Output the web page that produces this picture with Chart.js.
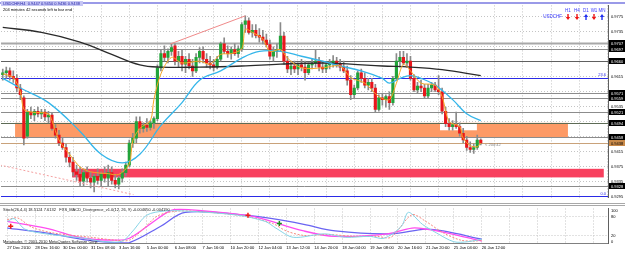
<!DOCTYPE html>
<html>
<head>
<meta charset="utf-8">
<script src="https://cdn.jsdelivr.net/npm/chart.js@4.4.1/dist/chart.umd.min.js"></script>
<style>
  html, body { margin: 0; padding: 0; background: #fff; overflow: hidden; }
  #wrap { position: relative; width: 625px; height: 253px; }
  canvas { position: absolute; left: 0; }
  #main { top: 0; }
  #sub { top: 203px; }
</style>
</head>
<body>
<div id="wrap">
  <canvas id="main" width="625" height="203"></canvas>
  <canvas id="sub" width="625" height="50"></canvas>
</div>
<script>
'use strict';

// ─── Data (USDCHF H4) ────────────────────────────────────────
const timeLabels = ['27 Dec 2010', '28 Dec 16:00', '30 Dec 00:00', '31 Dec 08:00', '3 Jan 16:00',
  '5 Jan 00:00', '6 Jan 08:00', '7 Jan 16:00', '10 Jan 20:00', '12 Jan 04:00', '13 Jan 12:00',
  '14 Jan 20:00', '18 Jan 04:00', '19 Jan 08:00', '20 Jan 16:00', '21 Jan 20:00', '25 Jan 04:00',
  '26 Jan 12:00'];
const timeTicks = [0, 8, 16, 24, 32, 40, 48, 56, 64, 72, 80, 88, 96, 104, 112, 120, 128, 136,
  144, 152, 160, 168];

const opens = [
  0.9621, 0.9626, 0.9631, 0.9616, 0.9611, 0.9585, 0.9559, 0.9456, 0.9521, 0.9513,
  0.9523, 0.9516, 0.9521, 0.9508, 0.9513, 0.9477, 0.9459, 0.9438, 0.9426, 0.9400,
  0.9387, 0.9361, 0.9354, 0.9336, 0.9359, 0.9344, 0.9333, 0.9349, 0.9338, 0.9354,
  0.9344, 0.9359, 0.9338, 0.9328, 0.9344, 0.9359, 0.9379, 0.9438, 0.9451, 0.9495,
  0.9477, 0.9485, 0.9480, 0.9492, 0.9503, 0.9639, 0.9677, 0.9667, 0.9683, 0.9698,
  0.9657, 0.9670, 0.9649, 0.9662, 0.9644, 0.9631, 0.9667, 0.9683, 0.9662, 0.9652,
  0.9647, 0.9641, 0.9662, 0.9703, 0.9683, 0.9677, 0.9688, 0.9677, 0.9690, 0.9755,
  0.9765, 0.9734, 0.9739, 0.9726, 0.9721, 0.9713, 0.9701, 0.9670, 0.9683, 0.9688,
  0.9724, 0.9657, 0.9636, 0.9644, 0.9636, 0.9647, 0.9641, 0.9626, 0.9647, 0.9652,
  0.9657, 0.9641, 0.9636, 0.9647, 0.9652, 0.9657, 0.9649, 0.9641, 0.9631, 0.9606,
  0.9567, 0.9585, 0.9626, 0.9611, 0.9593, 0.9600, 0.9585, 0.9528, 0.9559, 0.9554,
  0.9562, 0.9546, 0.9611, 0.9657, 0.9667, 0.9652, 0.9657, 0.9611, 0.9580, 0.9590,
  0.9585, 0.9564, 0.9585, 0.9593, 0.9580, 0.9575, 0.9523, 0.9490, 0.9482, 0.9487,
  0.9482, 0.9464, 0.9446, 0.9426, 0.9421, 0.9426, 0.9446];
const highs = [
  0.9636, 0.9641, 0.9639, 0.9631, 0.9621, 0.9595, 0.9564, 0.9528, 0.9534, 0.9528,
  0.9534, 0.9528, 0.9528, 0.9523, 0.9518, 0.9487, 0.9472, 0.9451, 0.9436, 0.9413,
  0.9400, 0.9379, 0.9374, 0.9369, 0.9374, 0.9361, 0.9354, 0.9369, 0.9361, 0.9374,
  0.9379, 0.9374, 0.9354, 0.9349, 0.9369, 0.9387, 0.9446, 0.9464, 0.9508, 0.9508,
  0.9492, 0.9503, 0.9498, 0.9508, 0.9647, 0.9688, 0.9698, 0.9690, 0.9703, 0.9703,
  0.9683, 0.9688, 0.9670, 0.9677, 0.9662, 0.9677, 0.9693, 0.9695, 0.9677, 0.9670,
  0.9662, 0.9670, 0.9708, 0.9719, 0.9698, 0.9695, 0.9703, 0.9698, 0.9760, 0.9778,
  0.9773, 0.9755, 0.9755, 0.9744, 0.9739, 0.9729, 0.9713, 0.9695, 0.9703, 0.9760,
  0.9734, 0.9670, 0.9657, 0.9657, 0.9652, 0.9662, 0.9657, 0.9652, 0.9662, 0.9688,
  0.9667, 0.9657, 0.9652, 0.9662, 0.9672, 0.9667, 0.9662, 0.9657, 0.9644, 0.9618,
  0.9593, 0.9631, 0.9636, 0.9626, 0.9611, 0.9611, 0.9595, 0.9567, 0.9570, 0.9567,
  0.9575, 0.9616, 0.9677, 0.9683, 0.9683, 0.9677, 0.9670, 0.9621, 0.9600, 0.9606,
  0.9595, 0.9595, 0.9600, 0.9600, 0.9618, 0.9585, 0.9534, 0.9503, 0.9498, 0.9521,
  0.9492, 0.9477, 0.9456, 0.9441, 0.9436, 0.9459, 0.9449];
const lows = [
  0.9606, 0.9611, 0.9606, 0.9600, 0.9575, 0.9554, 0.9433, 0.9451, 0.9503, 0.9498,
  0.9508, 0.9503, 0.9498, 0.9492, 0.9472, 0.9451, 0.9431, 0.9421, 0.9387, 0.9374,
  0.9349, 0.9338, 0.9323, 0.9323, 0.9333, 0.9318, 0.9307, 0.9328, 0.9323, 0.9333,
  0.9323, 0.9328, 0.9318, 0.9315, 0.9333, 0.9349, 0.9374, 0.9426, 0.9438, 0.9464,
  0.9467, 0.9469, 0.9472, 0.9477, 0.9498, 0.9631, 0.9657, 0.9652, 0.9672, 0.9647,
  0.9641, 0.9631, 0.9626, 0.9636, 0.9616, 0.9626, 0.9652, 0.9652, 0.9641, 0.9636,
  0.9631, 0.9636, 0.9657, 0.9677, 0.9667, 0.9662, 0.9672, 0.9667, 0.9683, 0.9734,
  0.9729, 0.9721, 0.9719, 0.9708, 0.9703, 0.9695, 0.9662, 0.9657, 0.9667, 0.9683,
  0.9649, 0.9626, 0.9621, 0.9626, 0.9621, 0.9631, 0.9606, 0.9621, 0.9636, 0.9641,
  0.9631, 0.9626, 0.9626, 0.9636, 0.9641, 0.9641, 0.9631, 0.9626, 0.9593, 0.9554,
  0.9559, 0.9580, 0.9600, 0.9585, 0.9580, 0.9575, 0.9521, 0.9523, 0.9539, 0.9534,
  0.9528, 0.9539, 0.9606, 0.9641, 0.9647, 0.9641, 0.9606, 0.9575, 0.9570, 0.9575,
  0.9559, 0.9559, 0.9575, 0.9575, 0.9567, 0.9516, 0.9482, 0.9472, 0.9472, 0.9477,
  0.9456, 0.9438, 0.9418, 0.9413, 0.9410, 0.9421, 0.9433];
const closes = [
  0.9626, 0.9631, 0.9616, 0.9611, 0.9585, 0.9567, 0.9451, 0.9521, 0.9513, 0.9523,
  0.9516, 0.9521, 0.9508, 0.9513, 0.9477, 0.9459, 0.9438, 0.9426, 0.9400, 0.9387,
  0.9361, 0.9354, 0.9336, 0.9359, 0.9344, 0.9333, 0.9349, 0.9338, 0.9354, 0.9344,
  0.9359, 0.9338, 0.9328, 0.9344, 0.9359, 0.9379, 0.9438, 0.9451, 0.9495, 0.9477,
  0.9485, 0.9480, 0.9492, 0.9503, 0.9639, 0.9677, 0.9667, 0.9683, 0.9693, 0.9657,
  0.9670, 0.9649, 0.9662, 0.9644, 0.9631, 0.9667, 0.9683, 0.9662, 0.9652, 0.9647,
  0.9641, 0.9662, 0.9703, 0.9683, 0.9677, 0.9688, 0.9677, 0.9690, 0.9755, 0.9765,
  0.9734, 0.9739, 0.9726, 0.9721, 0.9713, 0.9701, 0.9670, 0.9683, 0.9688, 0.9724,
  0.9657, 0.9636, 0.9644, 0.9636, 0.9647, 0.9641, 0.9626, 0.9647, 0.9652, 0.9657,
  0.9641, 0.9636, 0.9647, 0.9652, 0.9657, 0.9649, 0.9641, 0.9631, 0.9606, 0.9567,
  0.9585, 0.9626, 0.9611, 0.9593, 0.9600, 0.9585, 0.9528, 0.9559, 0.9554, 0.9562,
  0.9546, 0.9611, 0.9657, 0.9667, 0.9652, 0.9657, 0.9611, 0.9580, 0.9590, 0.9585,
  0.9564, 0.9585, 0.9593, 0.9580, 0.9575, 0.9523, 0.9490, 0.9482, 0.9487, 0.9482,
  0.9464, 0.9446, 0.9426, 0.9421, 0.9426, 0.9446, 0.9438];

// moving averages, sampled along the drawn curves (bar index, price)
const slowMaX = [0, 11, 22, 31, 39, 45, 56, 68, 79, 91, 99, 108, 116, 125, 136];
const slowMa  = [0.9747, 0.9734, 0.9708, 0.9675, 0.9647, 0.9641, 0.9641, 0.9644, 0.9649,
  0.9652, 0.9649, 0.9644, 0.9641, 0.9634, 0.9618];
const midMaX = [0, 5, 13, 22, 28, 34, 39, 45, 51, 56, 62, 68, 73, 79, 85, 91, 96, 102, 108,
  110, 113, 116, 119, 123, 128, 132, 136];
const midMa  = [0.9611, 0.9585, 0.9546, 0.9469, 0.9408, 0.9385, 0.9408, 0.9485, 0.9546,
  0.9606, 0.9631, 0.9665, 0.9683, 0.9683, 0.9670, 0.9657, 0.9644, 0.9631, 0.9611, 0.9598,
  0.9611, 0.9618, 0.9611, 0.9593, 0.9554, 0.9516, 0.9498];
const fastMaX = [0, 3, 5, 6, 8, 13, 14, 16, 19, 22, 25, 30, 33, 36, 37, 39, 42, 43, 45, 48,
  51, 56, 59, 62, 65, 68, 69, 71, 74, 76, 79, 81, 85, 91, 96, 99, 103, 107, 110, 112, 114,
  116, 119, 123, 125, 127, 130, 131, 133, 135, 136];
const fastMa  = [0.9623, 0.9613, 0.9575, 0.9528, 0.9521, 0.9516, 0.9498, 0.9446, 0.9408,
  0.9374, 0.9361, 0.9356, 0.9354, 0.9382, 0.9444, 0.9477, 0.9498, 0.9554, 0.9623, 0.9667,
  0.9652, 0.9657, 0.9649, 0.9675, 0.9677, 0.9690, 0.9742, 0.9734, 0.9716, 0.9683, 0.9688,
  0.9665, 0.9639, 0.9639, 0.9644, 0.9613, 0.9598, 0.9562, 0.9554, 0.9598, 0.9649, 0.9631,
  0.9598, 0.9593, 0.9562, 0.9495, 0.9482, 0.9451, 0.9431, 0.9428, 0.9438];

// trend lines
const riseLineX = [47.7, 69.0];
const riseLineY = [0.9703, 0.9778];
const fallLineX = [-0.8, 37.2];
const fallLineY = [0.9379, 0.9300];

// horizontal levels
const levelPrices = [0.9706, 0.9690, 0.9657, 0.9572, 0.9559, 0.9521, 0.9492, 0.9454, 0.9323];
const levelTexts  = ['0.9707', '0.9697', '0.9660', '0.9571', '0.9559', '0.9521', '0.9494', '0.9458', '0.9328'];
const fibPrices = [0.9611, 0.9295];
const fibTexts  = ['23.6', '0.0'];
const bidPrice = 0.9438;

// shaded zones (bar index from/to, price top/bottom)
const zoneFrom = [3.5, 19.7];
const zoneTo   = [160.8, 171.0];
const zoneTop  = [0.9492, 0.9369];
const zoneBot  = [0.9454, 0.9346];
const noteBoxX = [124.4, 134.9];
const noteBoxY = [0.9490, 0.9472];

const priceTicks = [0.9295, 0.9335, 0.9375, 0.9415, 0.9455, 0.9495, 0.9535, 0.9575, 0.9615,
  0.9655, 0.9695, 0.9735, 0.9775];

// sub window: Stoch(26,4,4) + MACD divergence
const stochKX = [0, 2, 5, 11, 22, 28, 33, 36, 40, 45, 51, 66, 74, 77, 82, 91, 97, 104, 108,
  113, 115, 119, 123, 128, 132, 136];
const stochK  = [65, 74, 41, 26, 12, 1, 3, 35, 85, 98, 98, 85, 65, 44, 15, 26, 15, 18, 12,
  50, 94, 56, 29, 1, 1, 9];
const stochDX = [0, 3, 7, 13, 24, 31, 35, 39, 43, 48, 54, 68, 76, 80, 85, 92, 99, 106, 110,
  116, 120, 125, 130, 134, 136];
const stochD  = [71, 76, 47, 29, 15, 6, 6, 41, 82, 97, 97, 82, 59, 35, 21, 24, 18, 18, 15,
  86, 65, 29, 6, 3, 6];
const macdX = [0, 11, 22, 31, 35, 42, 47, 51, 68, 73, 85, 94, 109, 116, 120, 126, 136];
const macd  = [65, 44, 12, 6, 12, 65, 100, 103, 85, 74, 35, 18, 26, 44, 41, 29, 3];
const signalX = [0, 11, 23, 31, 35, 44, 51, 68, 76, 85, 94, 110, 120, 125, 136];
const signal  = [44, 29, 6, -2, -2, 50, 94, 85, 74, 56, 35, 26, 41, 35, 9];
const divX = [1, 69, 78];
const divY = [50, 85, 59];
const divKind = ['sell', 'sell', 'buy'];
const stochTicks = [0, 20, 80, 100];

// ─── Shared look ──────────────────────────────────────────────
const FONT = 'Liberation Sans';
const UP = '#22a43a';
const DOWN = '#e8161b';
const GRID = '#c4c4c4';
const X_MIN = -0.5;
const X_MAX = 172.2;

const bars = opens.map((_, i) => i);
const pts = (xs, ys) => xs.map((x, k) => ({ x, y: ys[k] }));

function xScale(showLabels) {
  return {
    type: 'linear',
    min: X_MIN,
    max: X_MAX,
    offset: false,
    afterBuildTicks: s => { s.ticks = timeTicks.map(v => ({ value: v })); },
    afterFit: s => { s.height = showLabels ? 10 : 0; },
    grid: { display: true, color: GRID, drawTicks: false },
    border: { display: showLabels, color: '#808080', dash: [1, 2] },
    ticks: {
      display: showLabels,
      autoSkip: false,
      maxRotation: 0,
      align: 'start',
      padding: 2,
      color: '#000',
      font: { family: FONT, size: 4.1 },
      callback: v => timeLabels[timeTicks.indexOf(v)] || '',
    },
  };
}

const whiteBg = {
  id: 'whiteBg',
  beforeDraw(chart) {
    const { ctx, width, height } = chart;
    ctx.save();
    ctx.fillStyle = '#fff';
    ctx.fillRect(0, 0, width, height);
    ctx.restore();
  },
};

function hline(ctx, a, yy, color, w) {
  ctx.strokeStyle = color;
  ctx.lineWidth = w;
  ctx.beginPath();
  ctx.moveTo(a.left, Math.round(yy) + 0.5);
  ctx.lineTo(a.right, Math.round(yy) + 0.5);
  ctx.stroke();
}

function arrow(ctx, cx, down, color) {
  ctx.fillStyle = color;
  ctx.beginPath();
  if (down) {
    ctx.fillRect(cx - 0.7, 14, 1.4, 3);
    ctx.moveTo(cx - 2.2, 17); ctx.lineTo(cx + 2.2, 17); ctx.lineTo(cx, 20);
  } else {
    ctx.fillRect(cx - 0.7, 17, 1.4, 3);
    ctx.moveTo(cx - 2.2, 17); ctx.lineTo(cx + 2.2, 17); ctx.lineTo(cx, 14);
  }
  ctx.closePath();
  ctx.fill();
}

// ─── Main window overlays ────────────────────────────────────
const mainOverlay = {
  id: 'mainOverlay',
  beforeDatasetsDraw(chart) {
    const { ctx, chartArea: a, scales: { x, y } } = chart;
    ctx.save();
    const zoneColors = ['#fd9a66', '#f8405e'];
    zoneFrom.forEach((f, k) => {
      const x0 = x.getPixelForValue(f), x1 = x.getPixelForValue(zoneTo[k]);
      const y0 = y.getPixelForValue(zoneTop[k]), y1 = y.getPixelForValue(zoneBot[k]);
      ctx.fillStyle = zoneColors[k];
      ctx.fillRect(x0, y0, x1 - x0, y1 - y0);
    });
    ctx.fillStyle = '#fff';
    const bx0 = x.getPixelForValue(noteBoxX[0]), bx1 = x.getPixelForValue(noteBoxX[1]);
    const by0 = y.getPixelForValue(noteBoxY[0]), by1 = y.getPixelForValue(noteBoxY[1]);
    ctx.fillRect(bx0, by0, bx1 - bx0, by1 - by0);

    const levelColors = ['#a8a8a8', '#8c8c8c', '#606060', '#8c8c8c', '#8c8c8c', '#8c8c8c',
      '#5d6b55', '#8c8c8c', '#8c8c8c'];
    levelPrices.forEach((p, k) => hline(ctx, a, y.getPixelForValue(p), levelColors[k], k === 0 ? 2 : 1));
    hline(ctx, a, y.getPixelForValue(bidPrice), '#c9a27a', 1);
    fibPrices.forEach(p => hline(ctx, a, y.getPixelForValue(p), '#2a2ae6', 1));
    ctx.restore();
  },
  afterDraw(chart) {
    const { ctx, chartArea: a, scales: { y } } = chart;
    ctx.save();
    ctx.textBaseline = 'middle';
    ctx.font = `4px ${FONT}`;
    // price boxes on the axis
    levelPrices.forEach((p, k) => {
      const yy = Math.round(y.getPixelForValue(p));
      ctx.fillStyle = '#000';
      ctx.fillRect(a.right + 1, yy - 3, 625 - a.right - 1, 6);
      ctx.fillStyle = '#fff';
      ctx.fillText(levelTexts[k], a.right + 3, yy + 0.5);
    });
    const by = Math.round(y.getPixelForValue(bidPrice));
    ctx.fillStyle = '#c98a4a';
    ctx.fillRect(a.right + 1, by - 3, 625 - a.right - 1, 6);
    ctx.fillStyle = '#000';
    ctx.fillText(bidPrice.toFixed(4), a.right + 3, by + 0.5);
    // fib captions
    ctx.fillStyle = '#2a2ae6';
    ctx.textAlign = 'right';
    fibPrices.forEach((p, k) => ctx.fillText(fibTexts[k], a.right - 2, y.getPixelForValue(p) - 3));
    // countdown next to the last bar
    ctx.textAlign = 'left';
    ctx.fillStyle = '#808080';
    ctx.fillText('< 204:42', 485, y.getPixelForValue(bidPrice) + 2);
    // header
    ctx.fillStyle = '#9a9ae8';
    ctx.fillRect(0, 2, 625, 2);
    ctx.fillStyle = '#c6c6f4';
    ctx.fillRect(1, 1, 82, 5);
    ctx.fillStyle = '#2424a8';
    ctx.fillText('USDCHF,H4  0.9447 0.9450 0.9436 0.9438', 3, 3.8);
    ctx.fillStyle = '#000';
    ctx.fillText('204 minutes 42 seconds left to bar end', 3, 9.5);
    // timeframe arrows
    ctx.font = `4.5px ${FONT}`;
    ctx.textAlign = 'center';
    ctx.fillStyle = '#3a3aff';
    const tfs = ['H1', 'H4', 'D1', 'W1', 'MN'];
    const tfX = [568, 577, 586, 594, 602];
    const tfDown = [true, true, false, true, false];
    tfs.forEach((t, k) => ctx.fillText(t, tfX[k], 11));
    ctx.textAlign = 'right';
    ctx.fillText('USDCHF', 562, 17);
    tfX.forEach((cx, k) => arrow(ctx, cx, tfDown[k], tfDown[k] ? '#f01414' : '#2030f0'));
    ctx.restore();
  },
};

new Chart(document.getElementById('main'), {
  type: 'bar',
  data: {
    datasets: [
      { type: 'line', data: pts(fastMaX, fastMa), borderColor: '#f5a623', borderWidth: 1,
        pointRadius: 0, tension: 0.3, order: 0 },
      { type: 'line', data: pts(midMaX, midMa), borderColor: '#35b6ea', borderWidth: 1.3,
        pointRadius: 0, tension: 0.4, order: 0 },
      { type: 'line', data: pts(slowMaX, slowMa), borderColor: '#2a2a2a', borderWidth: 1.3,
        pointRadius: 0, tension: 0.4, order: 0 },
      { type: 'line', data: pts(riseLineX, riseLineY), borderColor: '#f08a8a', borderWidth: 1,
        pointRadius: 0, order: 1 },
      { type: 'line', data: pts(fallLineX, fallLineY), borderColor: '#f4a0a0', borderWidth: 1,
        borderDash: [2, 2], pointRadius: 0, order: 1 },
      { label: 'body', data: bars.map(i => ({ x: i, y: [opens[i], closes[i]] })),
        backgroundColor: bars.map(i => (closes[i] >= opens[i] ? UP : DOWN)),
        barThickness: 2.5, minBarLength: 1, grouped: false, order: 2 },
      { label: 'wick', data: bars.map(i => ({ x: i, y: [lows[i], highs[i]] })),
        backgroundColor: '#8a8a8a', barThickness: 1, grouped: false, order: 3 },
    ],
  },
  options: {
    responsive: false,
    animation: false,
    devicePixelRatio: 1,
    layout: { padding: { top: 2, bottom: 1, left: 1, right: 0 } },
    plugins: { legend: { display: false }, tooltip: { enabled: false } },
    scales: {
      x: xScale(false),
      y: {
        position: 'right',
        min: 0.9292,
        max: 0.9806,
        afterBuildTicks: s => { s.ticks = priceTicks.map(v => ({ value: v })); },
        afterFit: s => { s.width = 17; },
        grid: { color: GRID, drawTicks: false },
        border: { display: true, color: '#606060', dash: [1, 2] },
        ticks: { color: '#000', padding: 3, font: { family: FONT, size: 4 },
          callback: v => v.toFixed(4) },
      },
    },
  },
  plugins: [whiteBg, mainOverlay],
});

// ─── Sub window ──────────────────────────────────────────────
const subOverlay = {
  id: 'subOverlay',
  afterDraw(chart) {
    const { ctx } = chart;
    ctx.save();
    ctx.fillStyle = '#a8a8a8';
    ctx.fillRect(0, 0, 625, 1);
    ctx.fillRect(0, 2, 625, 1);
    ctx.font = `4px ${FONT}`;
    ctx.textBaseline = 'middle';
    ctx.fillStyle = '#202020';
    ctx.fillText('Stoch(26,4,4) 18.5124 7.6132   FXS_MACD_Divergence_v1.0(12, 26, 9) -0.004650 -0.004190', 3, 7);
    ctx.fillText('Metatrader, \u00a9 2001-2010 MetaQuotes Software Corp.', 3, 38.5);
    ctx.restore();
  },
};

new Chart(document.getElementById('sub'), {
  type: 'line',
  data: {
    datasets: [
      { data: pts(divX, divY), showLine: false, pointStyle: 'cross', pointRadius: 2.5,
        pointBorderWidth: 1.5,
        pointBorderColor: divKind.map(k => (k === 'sell' ? '#f01a1a' : '#1a8a1a')), order: 0 },
      { data: pts(stochKX, stochK), borderColor: '#86d4e6', borderWidth: 1, pointRadius: 0,
        tension: 0.3, order: 1 },
      { data: pts(stochDX, stochD), borderColor: '#f68a80', borderWidth: 1, borderDash: [2, 1.5],
        pointRadius: 0, tension: 0.3, order: 1 },
      { data: pts(macdX, macd), borderColor: '#ff4cf0', borderWidth: 1.3, pointRadius: 0,
        tension: 0.35, order: 1 },
      { data: pts(signalX, signal), borderColor: '#6a64f2', borderWidth: 1.3, pointRadius: 0,
        tension: 0.35, order: 1 },
    ],
  },
  options: {
    responsive: false,
    animation: false,
    devicePixelRatio: 1,
    layout: { padding: { top: 3, bottom: 0, left: 1, right: 0 } },
    plugins: { legend: { display: false }, tooltip: { enabled: false } },
    scales: {
      x: xScale(true),
      y: {
        position: 'right',
        min: -3,
        max: 106,
        afterBuildTicks: s => { s.ticks = stochTicks.map(v => ({ value: v })); },
        afterFit: s => { s.width = 17; },
        grid: { drawTicks: false,
          color: c => (c.tick && (c.tick.value === 20 || c.tick.value === 80) ? GRID : 'rgba(0,0,0,0)') },
        border: { display: true, color: '#606060', dash: [1, 2] },
        ticks: { color: '#000', padding: 3, font: { family: FONT, size: 4 } },
      },
    },
  },
  plugins: [whiteBg, subOverlay],
});
</script>
</body>
</html>
